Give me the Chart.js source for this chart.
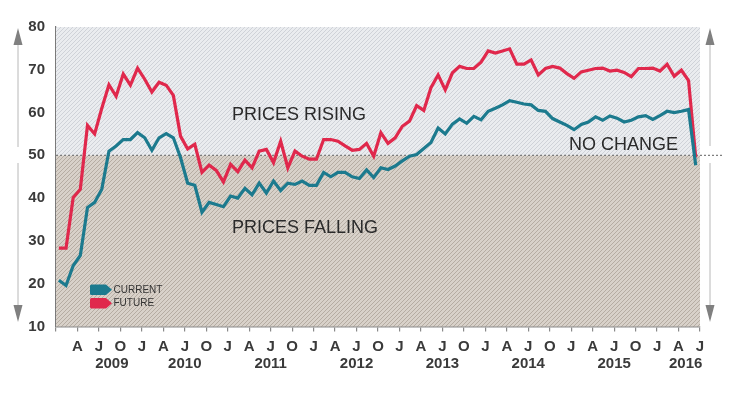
<!DOCTYPE html>
<html>
<head>
<meta charset="utf-8">
<script src="https://cdn.jsdelivr.net/npm/chart.js@4.4.1/dist/chart.umd.min.js"></script>
<style>
  html, body { margin: 0; padding: 0; background: #fff; }
  #wrap { width: 730px; height: 397px; position: relative; }
</style>
</head>
<body>
<div id="wrap"><canvas id="chart"></canvas></div>
<script>
// monthly readings, Jan 2009 .. Jun 2016
const startYear = 2009;
const monthLetters = ['J', 'F', 'M', 'A', 'M', 'J', 'J', 'A', 'S', 'O', 'N', 'D'];
const yearLabels = ['2009', '2010', '2011', '2012', '2013', '2014', '2015', '2016'];
const yearLabelMonths = [7.8, 18, 30, 42, 54, 66, 78, 88];
const yTicks = [10, 20, 30, 40, 50, 60, 70, 80];
const noChangeLevel = 50;

const current = [
    20.8, 19.6, 24.2, 26.6, 37.8, 39, 42.1, 51, 52.2, 53.7,
    53.7, 55.3, 54.1, 51.2, 54.1, 55.1, 54.1, 49.5, 43.5, 43,
    36.7, 39, 38.5, 38, 40.5, 40, 42.3, 40.8, 43.5, 41.2,
    44, 41.8, 43.5, 43.2, 44, 43, 43, 46, 45, 46,
    46, 45, 44.6, 46.6, 44.8, 47.1, 46.7, 47.5, 48.7, 49.8,
    50.2, 51.6, 53, 56.4, 55, 57.3, 58.5, 57.5, 59.1, 58.3,
    60.3, 61, 61.8, 62.8, 62.4, 62, 61.8, 60.5, 60.3, 58.6,
    57.8, 57, 56, 57.2, 57.8, 59, 58.2, 59.2, 58.7, 57.8,
    58.2, 59, 59.3, 58.4, 59.3, 60.3, 60, 60.3, 60.7, 47.7
];
const future = [
    28.3, 28.3, 40.1, 42.1, 57, 55, 61, 66.5, 63.8, 69,
    66.4, 70.4, 67.8, 64.8, 67.1, 66.4, 64, 54.5, 51.5, 52.6,
    46, 47.7, 46.5, 43.8, 47.9, 46.2, 48.9, 47.1, 51, 51.4,
    48.3, 53.3, 47.1, 51, 49.8, 49.1, 49.1, 53.7, 53.7, 53.3,
    52.2, 51.2, 51.4, 52.8, 49.8, 55.3, 52.8, 54.1, 56.8, 58,
    61.6, 60.5, 65.8, 68.8, 65.3, 69.3, 70.8, 70.3, 70.3, 71.8,
    74.4, 73.9, 74.4, 74.9, 71.3, 71.3, 72.3, 68.8, 70.3, 70.8,
    70.4, 69.1, 68, 69.5, 69.9, 70.3, 70.4, 69.7, 69.9, 69.4,
    68.4, 70.3, 70.3, 70.4, 69.7, 71.3, 68.5, 69.9, 67.5, 49.5
];

const tealColor = '#1c7a8e';
const redColor = '#e0284c';
const textColor = '#2a2a2a';
const axisFont = '"Liberation Sans", Arial, sans-serif';

const toPoints = (values) => values.map((v, i) => ({ x: i + 0.4, y: v }));

const makeHatch = (base, stripe) => {
    const c = document.createElement('canvas');
    c.width = 4;
    c.height = 4;
    const g = c.getContext('2d');
    g.fillStyle = base;
    g.fillRect(0, 0, 4, 4);
    g.strokeStyle = stripe;
    g.lineWidth = 1;
    g.beginPath();
    g.moveTo(0, 4); g.lineTo(4, 0);
    g.moveTo(-1, 1); g.lineTo(1, -1);
    g.moveTo(3, 5); g.lineTo(5, 3);
    g.stroke();
    return g.createPattern(c, 'repeat');
};

const backgroundPlugin = {
    id: 'zones',
    beforeDatasetsDraw(chart) {
        const { ctx, chartArea, scales } = chart;
        const y50 = scales.y.getPixelForValue(noChangeLevel);
        ctx.save();
        ctx.fillStyle = makeHatch('#eaecef', '#cfd2d8');
        ctx.fillRect(chartArea.left, chartArea.top, chartArea.right - chartArea.left, y50 - chartArea.top);
        ctx.fillStyle = makeHatch('#d8d1c9', '#b5aca2');
        ctx.fillRect(chartArea.left, y50, chartArea.right - chartArea.left, chartArea.bottom - y50);
        // no change line
        ctx.strokeStyle = '#7a7a7a';
        ctx.lineWidth = 1.2;
        ctx.setLineDash([2, 2]);
        ctx.beginPath();
        ctx.moveTo(chartArea.left, y50);
        ctx.lineTo(724, y50);
        ctx.stroke();
        ctx.restore();
    }
};

const drawArrow = (ctx, x, top, bottom, gapTop, gapBottom) => {
    ctx.strokeStyle = '#b8b8b8';
    ctx.lineWidth = 1;
    ctx.beginPath();
    ctx.moveTo(x, top + 16); ctx.lineTo(x, gapTop);
    ctx.moveTo(x, gapBottom); ctx.lineTo(x, bottom - 16);
    ctx.stroke();
    ctx.fillStyle = '#808080';
    ctx.beginPath();
    ctx.moveTo(x, top); ctx.lineTo(x - 4.5, top + 17); ctx.lineTo(x + 4.5, top + 17);
    ctx.closePath();
    ctx.fill();
    ctx.beginPath();
    ctx.moveTo(x, bottom); ctx.lineTo(x - 4.5, bottom - 17); ctx.lineTo(x + 4.5, bottom - 17);
    ctx.closePath();
    ctx.fill();
};

const drawTag = (ctx, x, y, w, h, color) => {
    ctx.fillStyle = color;
    ctx.beginPath();
    ctx.moveTo(x + 1.5, y);
    ctx.lineTo(x + w - 6, y);
    ctx.lineTo(x + w, y + h / 2);
    ctx.lineTo(x + w - 6, y + h);
    ctx.lineTo(x + 1.5, y + h);
    ctx.quadraticCurveTo(x, y + h, x, y + h - 1.5);
    ctx.lineTo(x, y + 1.5);
    ctx.quadraticCurveTo(x, y, x + 1.5, y);
    ctx.fill();
};

const annotationPlugin = {
    id: 'annotations',
    afterDraw(chart) {
        const { ctx, scales } = chart;
        ctx.save();
        ctx.fillStyle = textColor;
        ctx.textBaseline = 'alphabetic';
        ctx.textAlign = 'left';
        ctx.font = '18px ' + axisFont;
        ctx.fillText('PRICES RISING', 232, 120);
        ctx.fillText('PRICES FALLING', 232, 233);
        ctx.fillText('NO CHANGE', 569, 150);

        // year row
        ctx.font = 'bold 15px ' + axisFont;
        ctx.fillStyle = '#3a3a3a';
        ctx.textAlign = 'center';
        yearLabels.forEach((label, i) => {
            ctx.fillText(label, scales.x.getPixelForValue(yearLabelMonths[i]), 367.5);
        });

        // legend
        const sets = chart.data.datasets;
        ctx.textAlign = 'left';
        ctx.textBaseline = 'middle';
        ctx.font = '10px "Liberation Sans Narrow", "Liberation Sans", Arial, sans-serif';
        sets.forEach((ds, i) => {
            const y = 284.5 + i * 13.5;
            drawTag(ctx, 90, y, 22, 10.5, ds.borderColor);
            ctx.fillStyle = '#333';
            ctx.fillText(ds.label.toUpperCase(), 113.5, y + 5.5);
        });

        drawArrow(ctx, 18, 28, 322, 147, 163);
        drawArrow(ctx, 710, 28, 322, 146, 163);
        ctx.restore();
    }
};

const chart = new Chart(document.getElementById('chart'), {
    type: 'line',
    data: {
        datasets: [
            {
                label: 'Current',
                data: toPoints(current),
                borderColor: tealColor,
                borderWidth: 3.2,
                pointRadius: 0,
                tension: 0
            },
            {
                label: 'Future',
                data: toPoints(future),
                borderColor: redColor,
                borderWidth: 3.2,
                pointRadius: 0,
                tension: 0
            }
        ]
    },
    options: {
        responsive: true,
        maintainAspectRatio: false,
        animation: false,
        layout: { padding: { top: 27, right: 30, left: 0, bottom: 0 } },
        plugins: {
            legend: { display: false },
            tooltip: { enabled: false }
        },
        scales: {
            x: {
                type: 'linear',
                min: 0,
                max: 90,
                afterFit: (scale) => { scale.height = 70.5; },
                afterBuildTicks: (scale) => {
                    const ticks = [];
                    for (let m = 0; m <= 90; m += 3) ticks.push({ value: m });
                    scale.ticks = ticks;
                },
                ticks: {
                    autoSkip: false,
                    maxRotation: 0,
                    padding: 6,
                    color: '#3a3a3a',
                    font: { family: axisFont, size: 15, weight: 'bold' },
                    callback: (value) => value === 0 ? '' : monthLetters[value % 12]
                },
                grid: {
                    drawOnChartArea: false,
                    drawTicks: true,
                    tickLength: 5,
                    color: '#8a8a8a',
                    lineWidth: 1.2
                },
                border: { display: true, color: '#8a8a8a', width: 1.5 }
            },
            y: {
                min: 10,
                max: 80,
                afterFit: (scale) => { scale.width = 56; },
                afterBuildTicks: (scale) => {
                    scale.ticks = yTicks.map(v => ({ value: v }));
                },
                ticks: {
                    padding: 11,
                    color: '#3a3a3a',
                    font: { family: axisFont, size: 15, weight: 'bold' }
                },
                grid: { drawOnChartArea: false, drawTicks: false },
                border: { display: true, color: '#7a7a7a', width: 1.2 }
            }
        }
    },
    plugins: [backgroundPlugin, annotationPlugin]
});
</script>
</body>
</html>
